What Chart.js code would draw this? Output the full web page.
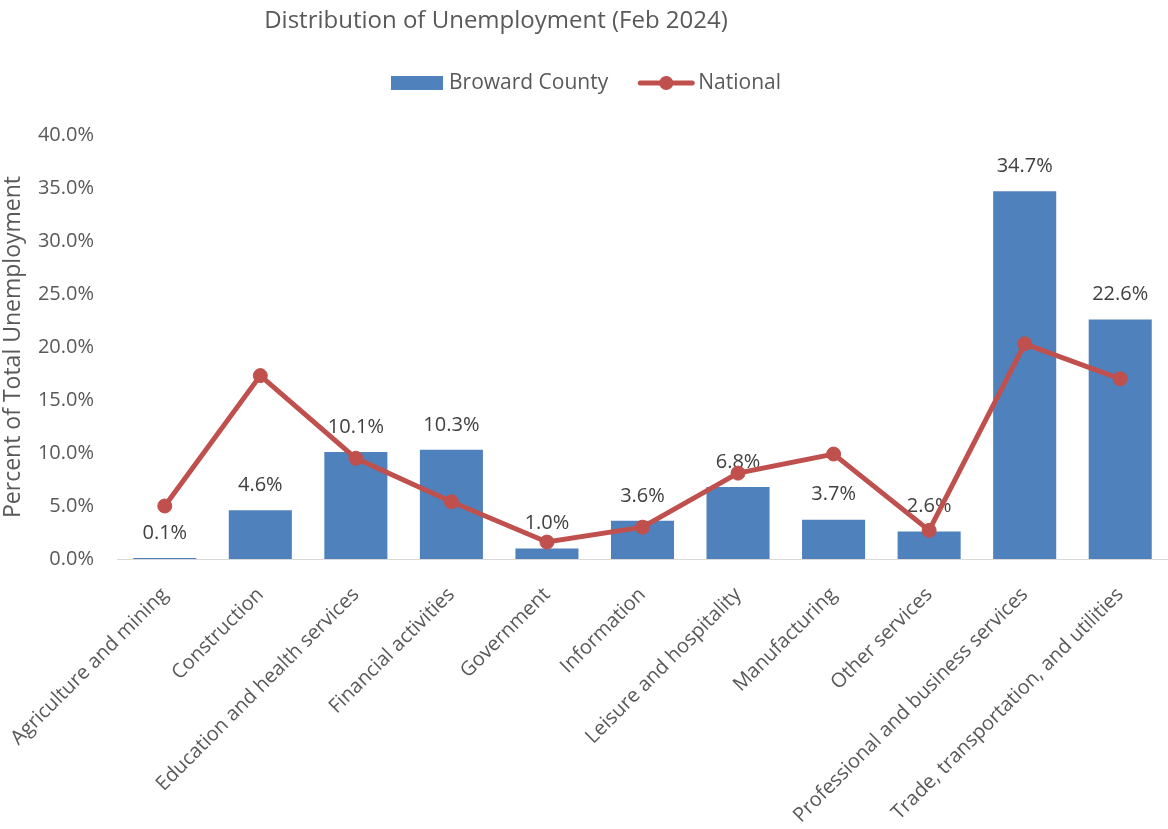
<!DOCTYPE html>
<html>
<head>
<meta charset="utf-8">
<title>Distribution of Unemployment (Feb 2024)</title>
<script src="https://cdn.jsdelivr.net/npm/chart.js@4.4.1/dist/chart.umd.min.js"></script>
<style>
  html, body { margin: 0; padding: 0; background: #fff; }
</style>
</head>
<body>
<canvas id="chart" width="1168" height="829"></canvas>
<script>
const FONT = "'Open Sans', 'Noto Sans', sans-serif"

const chartTitle = 'Distribution of Unemployment (Feb 2024)'
const yAxisTitle = 'Percent of Total Unemployment'
const seriesNames = ['Broward County', 'National']

const categories = [
  'Agriculture and mining',
  'Construction',
  'Education and health services',
  'Financial activities',
  'Government',
  'Information',
  'Leisure and hospitality',
  'Manufacturing',
  'Other services',
  'Professional and business services',
  'Trade, transportation, and utilities'
]

// percent of total unemployment
const browardValues = [0.1, 4.6, 10.1, 10.3, 1.0, 3.6, 6.8, 3.7, 2.6, 34.7, 22.6]
const nationalValues = [5.0, 17.3, 9.5, 5.4, 1.6, 3.0, 8.1, 9.9, 2.7, 20.3, 17.0]

const yTickValues = [0, 5, 10, 15, 20, 25, 30, 35, 40]

const BAR_COLOR = '#4F81BD'
const LINE_COLOR = '#C0504D'
const TEXT_COLOR = '#595959'

const fmtPct = v => v.toFixed(1) + '%'

// value labels above the bars (drawn before the line so the line sits on top)
// plus title and legend in the reserved top band
const decorPlugin = {
  id: 'decor',
  afterDatasetDraw (chart, args) {
    if (args.index !== 0) return
    const ctx = chart.ctx
    const meta = chart.getDatasetMeta(0)
    ctx.save()
    ctx.font = `20px ${FONT}`
    ctx.fillStyle = '#404040'
    ctx.textAlign = 'center'
    ctx.textBaseline = 'middle'
    meta.data.forEach((bar, i) => {
      ctx.fillText(fmtPct(browardValues[i]), bar.x, bar.y - 25)
    })
    ctx.restore()
  },
  afterDraw (chart) {
    const ctx = chart.ctx
    ctx.save()

    // title
    ctx.font = `24px ${FONT}`
    ctx.fillStyle = TEXT_COLOR
    ctx.textAlign = 'center'
    ctx.textBaseline = 'middle'
    ctx.fillText(chartTitle, 496, 21)

    // legend
    ctx.font = `21px ${FONT}`
    const w1 = ctx.measureText(seriesNames[0]).width
    const w2 = ctx.measureText(seriesNames[1]).width
    const swatchW = 52
    const lineW = 56
    const total = swatchW + 6 + w1 + 30 + lineW + 4 + w2
    let x = 586 - total / 2
    const y = 83

    ctx.fillStyle = BAR_COLOR
    ctx.fillRect(x, y - 7, swatchW, 14)
    x += swatchW + 6
    ctx.fillStyle = TEXT_COLOR
    ctx.textAlign = 'left'
    ctx.fillText(seriesNames[0], x, y)
    x += w1 + 30

    ctx.strokeStyle = LINE_COLOR
    ctx.lineWidth = 5
    ctx.lineCap = 'round'
    ctx.beginPath()
    ctx.moveTo(x + 2, y)
    ctx.lineTo(x + lineW - 2, y)
    ctx.stroke()
    ctx.fillStyle = LINE_COLOR
    ctx.beginPath()
    ctx.arc(x + lineW / 2, y, 7, 0, Math.PI * 2)
    ctx.fill()
    x += lineW + 4
    ctx.fillStyle = TEXT_COLOR
    ctx.fillText(seriesNames[1], x, y)

    ctx.restore()
  }
}

const ctx = document.getElementById('chart').getContext('2d')

new Chart(ctx, {
  type: 'bar',
  data: {
    labels: categories,
    datasets: [
      {
        type: 'bar',
        label: seriesNames[0],
        data: browardValues,
        backgroundColor: BAR_COLOR,
        categoryPercentage: 1,
        barPercentage: 0.66,
        order: 1
      },
      {
        type: 'line',
        label: seriesNames[1],
        data: nationalValues,
        borderColor: LINE_COLOR,
        backgroundColor: LINE_COLOR,
        borderWidth: 5,
        pointRadius: 7,
        pointBorderWidth: 1,
        pointBackgroundColor: LINE_COLOR,
        pointBorderColor: LINE_COLOR,
        tension: 0,
        order: 0
      }
    ]
  },
  options: {
    responsive: false,
    animation: false,
    layout: {
      autoPadding: false,
      padding: { top: 135, right: -2, bottom: 0, left: 0 }
    },
    plugins: {
      legend: { display: false },
      title: { display: false },
      tooltip: { enabled: false }
    },
    scales: {
      x: {
        grid: { display: false, drawTicks: false },
        border: { color: '#D9D9D9', width: 1 },
        ticks: {
          autoSkip: false,
          minRotation: 45,
          maxRotation: 45,
          color: TEXT_COLOR,
          padding: 24,
          font: { family: FONT, size: 20 }
        },
        afterFit: scale => {
          scale.height = 270
          scale.paddingLeft = 0
          scale.paddingRight = 0
        }
      },
      y: {
        min: yTickValues[0],
        max: yTickValues[yTickValues.length - 1],
        afterBuildTicks: scale => {
          scale.ticks = yTickValues.map(v => ({ value: v }))
        },
        grid: { display: false, drawTicks: false },
        border: { display: false },
        ticks: {
          color: TEXT_COLOR,
          padding: 23,
          font: { family: FONT, size: 20 },
          callback: value => fmtPct(value)
        },
        title: {
          display: true,
          text: yAxisTitle,
          color: TEXT_COLOR,
          font: { family: FONT, size: 23 },
          padding: { top: 0, bottom: 0 }
        },
        afterFit: scale => { scale.width = 117 }
      }
    }
  },
  plugins: [decorPlugin]
})
</script>
</body>
</html>
